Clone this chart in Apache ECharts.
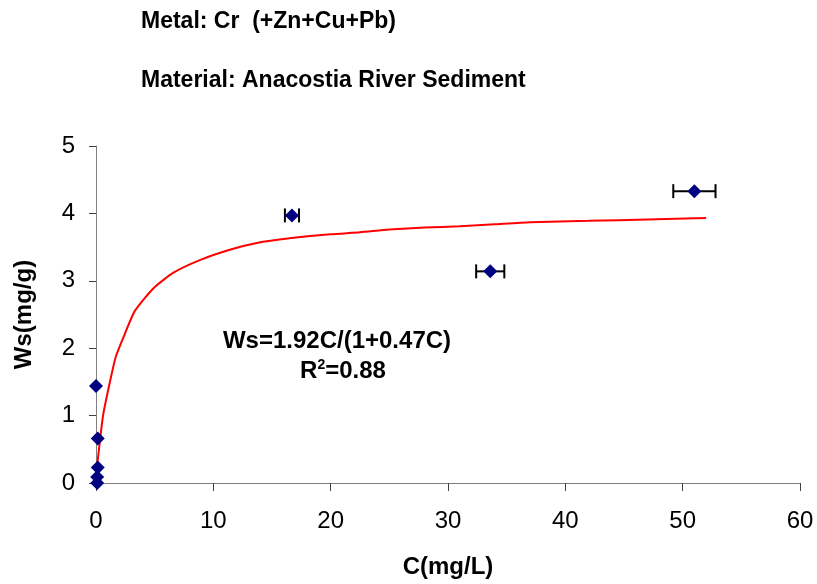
<!DOCTYPE html>
<html><head><meta charset="utf-8">
<script src="https://cdn.jsdelivr.net/npm/echarts@6/dist/echarts.min.js"></script>
<style>html,body{margin:0;padding:0;background:#fff}#c{width:817px;height:584px}</style>
</head><body><div id="c"></div>
<script>
// Measured data points: C (mg/L), Ws (mg/g), x error (± mg/L)
var pointsC  = [0.0, 0.15, 0.15, 0.1, 0.1, 16.7, 33.6, 51.0];
var pointsWs = [1.44, 0.66, 0.23, 0.09, 0.0, 3.97, 3.14, 4.33];
var errorC   = [0, 0, 0, 0, 0, 0.6, 1.2, 1.8];
// Fitted curve
var curveC  = [0.1, 0.6, 1.2, 1.7, 2.5, 3.3, 4.9, 6.6, 8.9, 11.4, 13.7, 16.5, 20, 22.5, 25, 28, 31, 34, 37, 42, 47, 52];
var curveWs = [0.26, 1.0, 1.51, 1.88, 2.23, 2.55, 2.89, 3.12, 3.31, 3.46, 3.56, 3.63, 3.69, 3.72, 3.76, 3.79, 3.81, 3.84, 3.87, 3.89, 3.91, 3.93];
var xTicks = [0, 10, 20, 30, 40, 50, 60];
var yTicks = [0, 1, 2, 3, 4, 5];

var font = 'Liberation Sans, Arial, sans-serif';
var pts = pointsC.map(function(c, i){ return [c, pointsWs[i]]; });
var errs = pointsC.map(function(c, i){ return [c, pointsWs[i], errorC[i]]; }).filter(function(d){ return d[2] > 0; });
var curve = curveC.map(function(c, i){ return [c, curveWs[i]]; });

var chart = echarts.init(document.getElementById('c'));
chart.setOption({
  animation: false,
  backgroundColor: '#fff',
  textStyle: { fontFamily: font },
  graphic: [
    { type: 'text', style: { text: 'Metal: Cr  (+Zn+Cu+Pb)', font: 'bold 23px ' + font, fill: '#000', x: 141, y: 22, align: 'left', verticalAlign: 'middle' } },
    { type: 'text', style: { text: 'Material: Anacostia River Sediment', font: 'bold 23px ' + font, fill: '#000', x: 141, y: 81, align: 'left', verticalAlign: 'middle' } },
    { type: 'text', style: { text: 'Ws=1.92C/(1+0.47C)', font: 'bold 24px ' + font, fill: '#000', x: 337, y: 341, align: 'center', verticalAlign: 'middle' } },
    { type: 'text', style: { text: '{a|R}{s|2}{a|=0.88}', x: 343, y: 371, align: 'center', verticalAlign: 'middle',
        rich: { a: { font: 'bold 24px ' + font, fill: '#000', lineHeight: 26 }, s: { font: 'bold 14px ' + font, fill: '#000', verticalAlign: 'top', lineHeight: 26, padding: [0, 0, 8, 0] } } } }
  ],
  grid: { left: 96, top: 146, width: 704, height: 338, containLabel: false },
  xAxis: {
    type: 'value', min: 0, max: 60, interval: 10,
    name: 'C(mg/L)', nameLocation: 'middle', nameGap: 72,
    nameTextStyle: { fontFamily: font, fontSize: 24, fontWeight: 'bold', color: '#000' },
    axisLine: { show: true, lineStyle: { color: '#808080', width: 1 } },
    axisTick: { show: true, length: 8, lineStyle: { color: '#404040' } },
    axisLabel: { fontFamily: font, fontSize: 24, color: '#000', margin: 26 },
    splitLine: { show: false }
  },
  yAxis: {
    type: 'value', min: 0, max: 5, interval: 1,
    name: 'Ws(mg/g)', nameLocation: 'middle', nameGap: 60, nameRotate: 90,
    nameTextStyle: { fontFamily: font, fontSize: 24, fontWeight: 'bold', color: '#000' },
    axisLine: { show: true, lineStyle: { color: '#808080', width: 1 } },
    axisTick: { show: true, length: 7, lineStyle: { color: '#404040' } },
    axisLabel: { fontFamily: font, fontSize: 24, color: '#000', margin: 21 },
    splitLine: { show: false }
  },
  series: [
    { type: 'line', data: curve, smooth: 0.2, symbol: 'none', lineStyle: { color: '#ff0000', width: 2 }, z: 2 },
    { type: 'custom', data: errs, z: 3,
      renderItem: function(params, api){
        var c = api.value(0), w = api.value(1), e = api.value(2);
        var p1 = api.coord([c - e, w]), p2 = api.coord([c + e, w]);
        var st = { stroke: '#000', lineWidth: 2 };
        return { type: 'group', children: [
          { type: 'line', shape: { x1: p1[0], y1: p1[1], x2: p2[0], y2: p2[1] }, style: st },
          { type: 'line', shape: { x1: p1[0], y1: p1[1] - 7, x2: p1[0], y2: p1[1] + 7 }, style: st },
          { type: 'line', shape: { x1: p2[0], y1: p2[1] - 7, x2: p2[0], y2: p2[1] + 7 }, style: st }
        ]};
      }
    },
    { type: 'scatter', data: pts, symbol: 'diamond', symbolSize: 14, itemStyle: { color: '#000080', opacity: 1 }, z: 4 }
  ]
});
</script></body></html>
